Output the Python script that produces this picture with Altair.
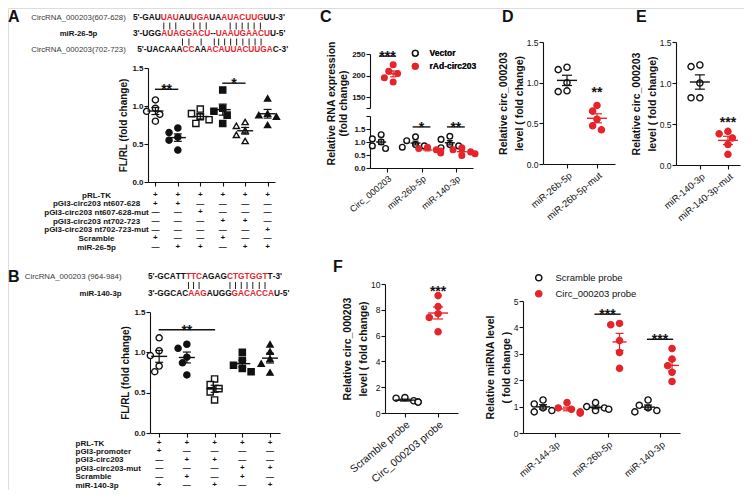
import altair as alt
import pandas as pd

# ======================= DATA =======================
# Panel A - binding sites
A_seq_labels = ["CircRNA_000203(607-628)", "miR-26-5p", "CircRNA_000203(702-723)"]
A_seq1 = [("5'-GAU", 0), ("UAU", 1), ("AU", 0), ("UGA", 1), ("UA", 0), ("AUACUUG", 1), ("UU-3'", 0)]
A_seq2 = [("3'-UGG", 0), ("AUAGGACU", 1), ("--", 0), ("UAAUGAACU", 1), ("U-5'", 0)]
A_seq3 = [("5'-UACAAA", 0), ("CC", 1), ("AA", 0), ("ACAUUACUUGA", 1), ("C-3'", 0)]
A_pairs_12 = [6, 7, 8, 11, 12, 13, 17, 18, 19, 20, 21, 22]
A_pairs_23 = [9, 10, 12, 15, 16, 17, 18, 19, 20, 21, 22, 23]
# Panel A - luciferase
A_values = [
    [1.08, 0.97, 0.93, 0.89, 0.80],
    [0.71, 0.65, 0.59, 0.55, 0.42],
    [0.96, 0.90, 0.86, 0.82, 0.77],
    [1.21, 0.97, 0.93, 0.88, 0.77],
    [0.79, 0.74, 0.68, 0.62, 0.54],
    [1.10, 0.90, 0.88, 0.86, 0.75],
]
A_sig = [(0, 1, 1.22, "**"), (3, 4, 1.30, "*")]
A_rows = ["pRL-TK", "pGI3-circ203 nt607-628", "pGI3-circ203 nt607-628-mut",
          "pGI3-circ203 nt702-723", "pGI3-circ203 nt702-723-mut", "Scramble", "miR-26-5p"]
A_table = ["++++++", "++----", "--+---", "---++-", "-----+", "+--+--", "-++-++"]

# Panel B
B_seq_labels = ["CircRNA_000203 (964-984)", "miR-140-3p"]
B_seq1 = [("5'-GCATT", 0), ("TTC", 1), ("AGAG", 0), ("CTGTGGT", 1), ("T-3'", 0)]
B_seq2 = [("3'-GGCAC", 0), ("AAG", 1), ("AUGG", 0), ("GACACCA", 1), ("U-5'", 0)]
B_pairs = [8, 9, 10, 15, 16, 17, 18, 19, 20, 21]
B_values = [
    [1.18, 1.02, 0.96, 0.83, 0.76],
    [1.10, 1.05, 0.94, 0.87, 0.72],
    [0.67, 0.60, 0.55, 0.51, 0.41],
    [1.00, 0.90, 0.84, 0.80, 0.76],
    [1.10, 1.01, 0.92, 0.86, 0.75],
]
B_sig = [(0, 2, 1.28, "**")]
B_rows = ["pRL-TK", "pGI3-promoter", "pGI3-circ203", "pGI3-circ203-mut", "Scramble", "miR-140-3p"]
B_table = ["+++++", "+----", "-++--", "---++", "-+-+-", "+-+-+"]

# Panel C
C_cats = ["Circ_000203", "miR-26b-5p", "miR-140-3p"]
C_series = ["Vector", "rAd-circ203"]
C_vector = [[1.28, 1.12, 1.00, 0.85, 0.75], [1.20, 1.05, 0.90, 0.85, 0.80], [1.22, 1.10, 0.90, 0.85, 0.78]]
C_rad = [[225, 210, 205, 195, 185], [0.80, 0.75, 0.70, 0.65, 0.58], [0.78, 0.70, 0.62, 0.55, 0.48]]
C_sig_upper = [(0, 245, "***")]
C_sig_lower = [(1, 1.58, "*"), (2, 1.58, "**")]

# Panel D / E
D_cats = ["miR-26b-5p", "miR-26b-5p-mut"]
D_values = [[1.19, 1.16, 1.00, 0.90, 0.89], [0.72, 0.65, 0.55, 0.47, 0.42]]
D_sig = [(1, 0.88, "**")]
E_cats = ["miR-140-3p", "miR-140-3p-mut"]
E_values = [[1.22, 1.20, 1.00, 0.82, 0.82], [0.41, 0.38, 0.33, 0.25, 0.13]]
E_sig = [(1, 0.52, "***")]

# Panel F
F1_cats = ["Scramble probe", "Circ_000203 probe"]
F1_values = [[1.20, 1.15, 0.95, 0.85, 0.85], [9.10, 8.25, 7.70, 7.40, 6.30]]
F1_sig = [(1, 9.45, "***")]
F2_cats = ["miR-144-3p", "miR-26b-5p", "miR-140-3p"]
F2_series = ["Scramble probe", "Circ_000203 probe"]
F2_scramble = [[1.25, 1.10, 0.95, 0.85, 0.80], [1.15, 1.00, 0.95, 0.90, 0.85], [1.25, 1.05, 0.95, 0.85, 0.80]]
F2_circ = [[1.15, 0.95, 0.90, 0.80, 0.75], [4.15, 4.10, 3.50, 3.05, 2.45], [3.20, 2.80, 2.55, 2.30, 1.95]]
F2_sig = [(1, 4.50, "***"), (2, 3.55, "***")]

PANEL_LETTERS = ["A", "B", "C", "D", "E", "F"]

# ======================= LAYOUT / STYLE =======================
W, H = 736, 482
FONT = "Liberation Sans"
RED = "#e4252b"
BLACK = "#111111"
GREY = "#3a3a3a"
MARK_SIZE = 38


def X(p):
    return p - 8


def Y(p):
    return p - 8


GEO = {
    "A": dict(x0=148, x1=275, xd=[-0.33, 5.33], y0=182, y1=68, yd=[0, 1.5]),
    "B": dict(x0=150, x1=280, xd=[-0.33, 4.36], y0=433, y1=312, yd=[0, 1.5]),
    "Cl": dict(x0=370, x1=473, xd=[-0.5, 2.5], y0=168, y1=116, yd=[0, 2]),
    "Cu": dict(x0=370, x1=473, xd=[-0.5, 2.5], y0=108, y1=54, yd=[125, 250]),
    "D": dict(x0=543, x1=615, xd=[-0.8, 1.6], y0=164, y1=42, yd=[0, 1.5]),
    "E": dict(x0=676, x1=740, xd=[-0.85, 1.43], y0=165, y1=42, yd=[0, 1.5]),
    "F1": dict(x0=385, x1=458, xd=[-0.6, 1.6], y0=413, y1=284, yd=[0, 10]),
    "F2": dict(x0=523, x1=680, xd=[-0.61, 2.38], y0=433, y1=301, yd=[0, 5]),
}
LETTER_POS = {"A": (0, 1), "B": (0, 261), "C": (312, 1), "D": (494, 1), "E": (628, 1), "F": (325, 251)}

# Arial/Liberation Sans Bold advance widths (per 1000 em)
CW = {"A": 722, "C": 722, "G": 778, "T": 611, "U": 722, "5": 556, "3": 556, "'": 238, "-": 333}


def geo_scales(g):
    xs = alt.Scale(domain=g["xd"], range=[X(g["x0"]), X(g["x1"])], nice=False, zero=False)
    ys = alt.Scale(domain=g["yd"], range=[Y(g["y0"]), Y(g["y1"])], nice=False, zero=False)
    ppx = (g["x1"] - g["x0"]) / (g["xd"][1] - g["xd"][0])
    ppy = (g["y0"] - g["y1"]) / (g["yd"][1] - g["yd"][0])
    return xs, ys, ppx, ppy


def y_axis(g, values, fmt=None, label_expr=None, title=None, bold=False, **kw):
    args = dict(orient="left", offset=-X(g["x0"]), values=values, grid=False,
                domainColor=BLACK, tickColor=BLACK, tickSize=4, domainWidth=1.1, tickWidth=1.1,
                labelFont=FONT, labelFontSize=8, labelColor=BLACK, labelPadding=1,
                labelFontWeight="bold" if bold else "normal", labelOverlap=False, labelFlush=False,
                title=title, titleFont=FONT, titleFontSize=10, titleFontWeight="bold",
                titleColor=BLACK, titlePadding=3, titleLineHeight=14)
    if fmt:
        args["format"] = fmt
    if label_expr:
        args["labelExpr"] = label_expr
    args.update(kw)
    return alt.Axis(**args)


def x_axis(g, n, labels=None, fs=8.5):
    args = dict(orient="bottom", offset=Y(g["y0"]) - H, values=list(range(n)), grid=False,
                domainColor=BLACK, tickColor=BLACK, tickSize=4, domainWidth=1.1, tickWidth=1.1,
                title=None, labelOverlap=False, labelFlush=False)
    if labels is None:
        args["labels"] = False
    else:
        args["labelExpr"] = "[" + ",".join("'%s'" % s for s in labels) + "][datum.value]"
        args.update(labelAngle=320, labelAlign="right", labelBaseline="top", labelFont=FONT,
                    labelFontSize=fs, labelColor=BLACK, labelPadding=2)
    return alt.Axis(**args)


def swarm(vals, ppu, d=7.0, step=4.4):
    order = sorted(range(len(vals)), key=lambda i: -vals[i])
    placed, res = [], [0.0] * len(vals)
    for i in order:
        yi = vals[i] * ppu
        xo = 0.0
        for k in (0, -1, 1, -2, 2, -3, 3):
            xo = k * step
            if all((xo - a) ** 2 + (yi - b) ** 2 >= d * d for a, b in placed):
                break
        placed.append((xo, yi))
        res[i] = xo
    return res


def dot_panel(g, groups, dom, shapes, fills, strokes, lines, off_px, hw_px, cw_px,
              xax, yax, sig=None, legend=None, size=MARK_SIZE):
    xs, ys, ppx, ppy = geo_scales(g)
    recs = []
    for ci, gi, vals in groups:
        offs = swarm(vals, ppy)
        xc = ci + off_px[gi] / ppx
        for v, o in zip(vals, offs):
            recs.append(dict(xc=xc, xj=xc + o / ppx, v=v, grp=dom[gi]))
    df = pd.DataFrame(recs)
    pts = alt.Chart(df).mark_point(filled=True, size=size, strokeWidth=1.4, opacity=1).encode(
        x=alt.X("xj:Q", scale=xs, axis=xax),
        y=alt.Y("v:Q", scale=ys, axis=yax),
        shape=alt.Shape("grp:N", scale=alt.Scale(domain=dom, range=shapes), legend=legend),
        fill=alt.Fill("grp:N", scale=alt.Scale(domain=dom, range=fills), legend=legend),
        stroke=alt.Stroke("grp:N", scale=alt.Scale(domain=dom, range=strokes), legend=legend),
    )
    col = alt.Color("grp:N", scale=alt.Scale(domain=dom, range=lines), legend=None)
    hw, cw = hw_px / ppx, cw_px / ppx
    agg = alt.Chart(df).transform_aggregate(
        m="mean(v)", se="stderr(v)", groupby=["xc", "grp"]
    ).transform_calculate(
        lo="datum.m - datum.se", hi="datum.m + datum.se",
        xl="datum.xc - %f" % hw, xr="datum.xc + %f" % hw,
        cl="datum.xc - %f" % cw, cr="datum.xc + %f" % cw,
    )
    mean = agg.mark_rule(strokeWidth=1.4).encode(
        x=alt.X("xl:Q", scale=xs, axis=xax), x2="xr:Q",
        y=alt.Y("m:Q", scale=ys, axis=yax), color=col)
    err = agg.mark_rule(strokeWidth=1.2).encode(
        x=alt.X("xc:Q", scale=xs, axis=xax),
        y=alt.Y("lo:Q", scale=ys, axis=yax), y2="hi:Q", color=col)
    caps = agg.transform_fold(["lo", "hi"], as_=["k", "yv"]).mark_rule(strokeWidth=1.2).encode(
        x=alt.X("cl:Q", scale=xs, axis=xax), x2="cr:Q",
        y=alt.Y("yv:Q", scale=ys, axis=yax), color=col)
    layers = [pts, mean, err, caps]
    if sig:
        sdf = pd.DataFrame(sig, columns=["xa", "xb", "y", "t", "line"])
        sdf["xm"] = (sdf["xa"] + sdf["xb"]) / 2
        ldf = sdf[sdf["line"]]
        if len(ldf):
            layers.append(alt.Chart(ldf).mark_rule(strokeWidth=1.4, color=BLACK).encode(
                x=alt.X("xa:Q", scale=xs, axis=xax), x2="xb:Q",
                y=alt.Y("y:Q", scale=ys, axis=yax)))
        layers.append(alt.Chart(sdf).mark_text(
            font=FONT, fontSize=14, fontWeight="bold", baseline="alphabetic", dy=5, color=BLACK
        ).encode(x=alt.X("xm:Q", scale=xs, axis=xax), y=alt.Y("y:Q", scale=ys, axis=yax), text="t:N"))
    return alt.layer(*layers)


def seq_layout(runs, shift=0.0):
    out, pos = [], shift
    for txt, red in runs:
        for ch in txt:
            w = CW[ch] / 1000.0
            out.append((ch, pos + w / 2, red))
            pos += w
    return out


def seq_panel(lines, shifts, pairs, row_keys, row_y, start, f, labels, lab_align, lab_pad):
    recs, bars = [], []
    seq_rows = row_keys[0::2]
    bar_rows = row_keys[1::2]
    laid = [seq_layout(r, s) for r, s in zip(lines, shifts)]
    for key, chars in zip(seq_rows, laid):
        for ch, xc, red in chars:
            recs.append(dict(ch=ch, x=xc, row=key, c="r" if red else "k"))
    for key, (idx_list, li) in zip(bar_rows, pairs):
        for i in idx_list:
            bars.append(dict(x=laid[li][i][1], row=key))
    xs = alt.Scale(domain=[0, 20], range=[X(start), X(start) + 20 * f], nice=False, zero=False)
    ys = alt.Scale(domain=row_keys, range=[Y(row_y[0]), Y(row_y[1])], padding=0)
    expr = " : ".join("datum.value == '%s' ? '%s'" % (k, l) for k, l in zip(seq_rows, labels)) + " : ''"
    bold_test = "datum.value == '%s'" % seq_rows[1]
    yax = alt.Axis(orient="left", offset=-X(start), domain=False, ticks=False, tickSize=0, grid=False,
                   labelExpr=expr, labelAlign=lab_align, labelPadding=lab_pad, labelFont=FONT,
                   labelFontSize=7.8, labelOverlap=False, labelFlush=False, title=None,
                   labelFontWeight={"condition": {"test": bold_test, "value": "bold"}, "value": "normal"},
                   labelColor={"condition": {"test": bold_test, "value": BLACK}, "value": GREY})
    letters = alt.Chart(pd.DataFrame(recs)).mark_text(
        font=FONT, fontSize=f, fontWeight="bold", baseline="middle", align="center"
    ).encode(
        x=alt.X("x:Q", scale=xs, axis=None),
        y=alt.Y("row:N", scale=ys, axis=yax),
        text="ch:N",
        color=alt.Color("c:N", scale=alt.Scale(domain=["k", "r"], range=[BLACK, RED]), legend=None),
    )
    barl = alt.Chart(pd.DataFrame(bars)).mark_tick(
        color="#222222", size=7, thickness=1, opacity=1
    ).encode(x=alt.X("x:Q", scale=xs, axis=None), y=alt.Y("row:N", scale=ys, axis=yax))
    return alt.layer(letters, barl)


def table_panel(g, rows, table, ytop, ybot, yax):
    xs, _, _, _ = geo_scales(g)
    recs = []
    for name, s in zip(rows, table):
        for c, ch in enumerate(s):
            recs.append(dict(row=name, col=c, sym="+" if ch == "+" else "\u2014"))
    ys = alt.Scale(domain=rows, range=[Y(ytop), Y(ybot)], padding=0)
    return alt.Chart(pd.DataFrame(recs)).mark_text(
        font=FONT, fontSize=8, fontWeight="bold", baseline="middle", color=BLACK
    ).encode(x=alt.X("col:Q", scale=xs, axis=None), y=alt.Y("row:N", scale=ys, axis=yax), text="sym:N")


def table_axis(orient, offset, align, pad):
    return alt.Axis(orient=orient, offset=offset, domain=False, ticks=False, tickSize=0, grid=False,
                    labelAlign=align, labelPadding=pad, labelFont=FONT, labelFontSize=8,
                    labelFontWeight="bold", labelColor=BLACK, labelOverlap=False, labelFlush=False,
                    title=None)


charts = []

# ---------- Panel A ----------
charts.append(seq_panel([A_seq1, A_seq2, A_seq3], [0, 0, 0.5],
                        [(A_pairs_12, 0), (A_pairs_23, 1)],
                        ["s1", "b1", "s2", "b2", "s3"], (14, 54), 133, 8.3,
                        A_seq_labels, "center", 55))
domA = ["g%d" % i for i in range(6)]
charts.append(dot_panel(
    GEO["A"], [(i, i, v) for i, v in enumerate(A_values)], domA,
    ["circle", "circle", "square", "square", "triangle-up", "triangle-up"],
    ["white", BLACK] * 3, [BLACK] * 6, [BLACK] * 6, [0] * 6, 8, 4,
    x_axis(GEO["A"], 6),
    y_axis(GEO["A"], [0, 0.5, 1, 1.5], fmt=".1f", title="FL/RL (fold change)", bold=True),
    sig=[(a - 0.02, b + 0.02, y, t, True) for a, b, y, t in A_sig]))
charts.append(table_panel(GEO["A"], A_rows, A_table, 195, 247,
                          table_axis("left", -X(148), "center", 52)))

# ---------- Panel B ----------
charts.append(seq_panel([B_seq1, B_seq2], [0, 0], [(B_pairs, 0)],
                        ["s1", "b1", "s2"], (273, 298), 148, 8.3,
                        B_seq_labels, "right", 27))
domB = ["g%d" % i for i in range(5)]
charts.append(dot_panel(
    GEO["B"], [(i, i, v) for i, v in enumerate(B_values)], domB,
    ["circle", "circle", "square", "square", "triangle-up"],
    ["white", BLACK, "white", BLACK, BLACK], [BLACK] * 5, [BLACK] * 5, [0] * 5, 8, 4,
    x_axis(GEO["B"], 5),
    y_axis(GEO["B"], [0, 0.5, 1, 1.5], fmt=".1f", title="FL/RL (fold change)", bold=True),
    sig=[(a - 0.02, b + 0.02, y, t, True) for a, b, y, t in B_sig]))
charts.append(table_panel(GEO["B"], B_rows, B_table, 443, 485,
                          table_axis("right", X(73) - W, "left", 2)))

# ---------- Panel C ----------
legC = alt.Legend(orient="none", legendX=X(411), legendY=Y(49), title=None, labelFont=FONT,
                  labelFontSize=8.5, labelFontWeight="bold", labelColor=BLACK, symbolSize=32,
                  symbolStrokeWidth=1.4, labelOffset=10, rowPadding=1, padding=0)
c_lower_groups = [(i, 0, C_vector[i]) for i in range(3)] + [(i, 1, C_rad[i]) for i in (1, 2)]
charts.append(dot_panel(
    GEO["Cl"], c_lower_groups, C_series, ["circle", "circle"], ["white", RED], [BLACK, RED],
    [BLACK, RED], [-6, 6], 5, 3,
    x_axis(GEO["Cl"], 3, C_cats, fs=9),
    y_axis(GEO["Cl"], [0, 0.5, 1, 1.5, 2], fmt=".1f", bold=True,
           label_expr="datum.value > 1.9 ? '' : datum.label",
           title=["Relative RNA  expression", "(fold change)"], titleX=-34, titleY=Y(103),
           titleLineHeight=12, titleFontSize=10.5),
    sig=[(c - 0.26, c + 0.26, y, t, True) for c, y, t in C_sig_lower], legend=legC, size=32))
charts.append(dot_panel(
    GEO["Cu"], [(0, 1, C_rad[0])], C_series, ["circle", "circle"], ["white", RED], [BLACK, RED],
    [BLACK, RED], [-6, 6], 5, 3,
    None,
    y_axis(GEO["Cu"], [125, 150, 200, 250], bold=True,
           label_expr="datum.value < 150 ? '' : datum.label"),
    sig=[(c - 0.24, c + 0.26, y, t, True) for c, y, t in C_sig_upper], legend=legC, size=32))

# ---------- Panels D, E, F1 ----------
two = ["a", "b"]
for key, cats, vals, sig, ttl, xfs in [
    ("D", D_cats, D_values, D_sig, ["Relative  circ_000203", "level ( fold change)"], 9.5),
    ("E", E_cats, E_values, E_sig, ["Relative  circ_000203", "level ( fold change)"], 9.5),
    ("F1", F1_cats, F1_values, F1_sig, ["Relative  circ_000203", "level ( fold change)"], 10.5),
]:
    g = GEO[key]
    vals_y = [0, 2, 4, 6, 8, 10] if key == "F1" else [0, 0.5, 1, 1.5]
    fmt = "d" if key == "F1" else ".1f"
    charts.append(dot_panel(
        g, [(0, 0, vals[0]), (1, 1, vals[1])], two, ["circle", "circle"], ["white", RED],
        [BLACK, RED], [BLACK, RED], [0, 0], 10, 5,
        x_axis(g, 2, cats, fs=xfs),
        y_axis(g, vals_y, fmt=fmt, title=ttl, titleFontSize=10.5, titleLineHeight=16, titlePadding=2,
               labelFontSize=8.5),
        sig=[(c, c, y, t, False) for c, y, t in sig]))

# ---------- Panel F2 ----------
legF = alt.Legend(orient="none", legendX=X(534), legendY=Y(273), title=None, labelFont=FONT,
                  labelFontSize=9.5, labelColor=BLACK, symbolSize=38, symbolStrokeWidth=1.5,
                  labelOffset=12, rowPadding=3, padding=0)
f2_groups = [(i, 0, F2_scramble[i]) for i in range(3)] + [(i, 1, F2_circ[i]) for i in range(3)]
charts.append(dot_panel(
    GEO["F2"], f2_groups, F2_series, ["circle", "circle"], ["white", RED], [BLACK, RED],
    [BLACK, RED], [-12, 12], 7, 4,
    x_axis(GEO["F2"], 3, F2_cats, fs=9.5),
    y_axis(GEO["F2"], [0, 1, 2, 3, 4, 5], fmt="d", title=["Relative miRNA level", "( fold change )"],
           titleFontSize=10.5, titleLineHeight=16, titlePadding=2, labelFontSize=8.5),
    sig=[(c - 0.25, c + 0.25, y, t, True) for c, y, t in F2_sig], legend=legF))

# ---------- panel letters ----------
for letter in PANEL_LETTERS:
    lx, ly = LETTER_POS[letter]
    charts.append(alt.Chart(pd.DataFrame({"t": [letter]})).mark_text(
        font=FONT, fontSize=16, fontWeight="bold", align="left", baseline="top", color=BLACK
    ).encode(x=alt.value(lx), y=alt.value(ly), text="t:N"))

chart = alt.layer(*charts).resolve_scale(
    x="independent", y="independent", shape="independent", fill="independent",
    stroke="independent", color="independent"
).properties(
    width=W, height=H, autosize=alt.AutoSizeParams(type="none"), padding=0
).configure_view(stroke=None).configure(font=FONT, background="white")

chart.save("out.html", embed_options={"renderer": "svg", "actions": False})
